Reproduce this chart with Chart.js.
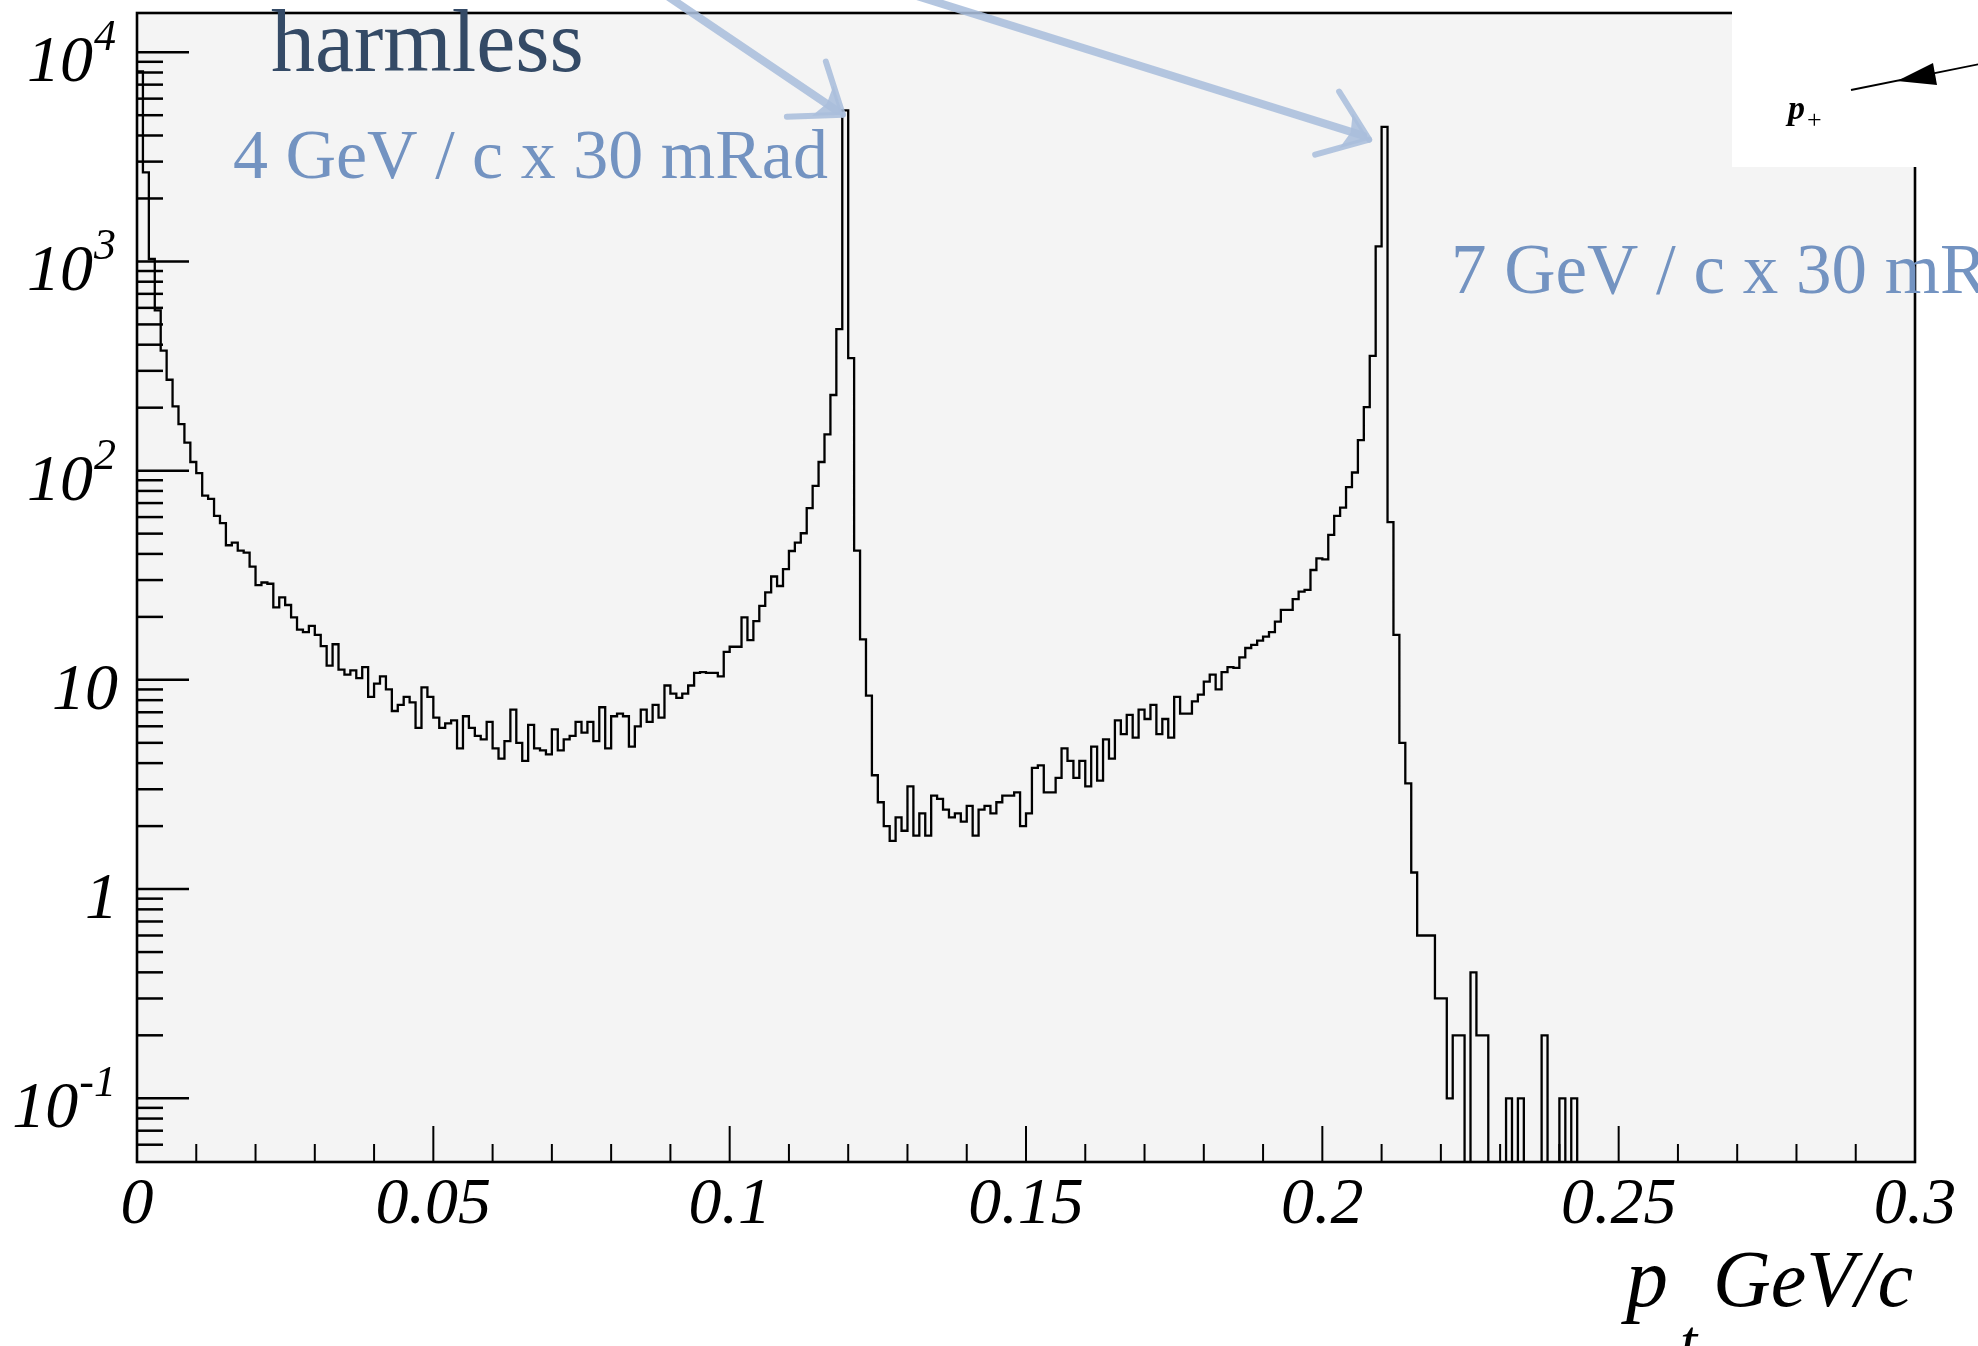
<!DOCTYPE html>
<html><head><meta charset="utf-8">
<script src="https://cdn.jsdelivr.net/npm/chart.js@4.4.0/dist/chart.umd.min.js"></script>
<style>html,body{margin:0;padding:0;background:#fff;overflow:hidden}canvas{display:block}</style>
</head><body>
<canvas id="c" width="1978" height="1346" style="width:1978px;height:1346px"></canvas>
<script>
// ---------------- data ----------------
const xMin = 0, xMax = 0.3, binWidth = 0.001;   // 300 bins of 0.001 GeV/c
const yMin = 0.0496, yMax = 15400;
const counts = [
 8100,2665,1027,583,375,272,203,167,136,110,
 97.3,76,73.3,60.8,56.1,44,45.3,41.5,40.6,34.8,
 28.4,29.2,28.8,22.2,24.8,22.8,19.9,17.4,16.9,18.1,
 16.4,14.5,11.7,14.8,11.2,10.6,11.1,10.2,11.5,8.3,
 9.6,10.4,9.0,7.1,7.6,8.3,7.8,5.9,9.2,8.3,
 6.6,5.9,6.2,6.4,4.7,6.7,5.9,5.4,5.2,6.3,
 4.7,4.2,5.1,7.2,5.0,4.1,6.1,4.7,4.6,4.4,
 5.8,4.6,5.2,5.4,6.3,5.6,6.3,5.1,7.4,4.7,
 6.7,6.9,6.7,4.8,6.0,7.2,6.3,7.6,6.6,9.4,
 8.6,8.2,8.6,9.4,10.8,10.9,10.8,10.8,10.4,13.6,
 14.4,14.4,19.9,15.5,19.1,22.6,26.2,31.2,28.1,33.8,
 41.3,45.3,50.2,66.2,84.6,110,149,230,475,5275,
 345,41.5,15.6,8.4,3.5,2.6,2.0,1.7,2.2,1.9,
 3.1,1.8,2.3,1.8,2.8,2.7,2.4,2.2,2.3,2.1,
 2.5,1.8,2.4,2.5,2.3,2.6,2.8,2.8,2.9,2.0,
 2.3,3.8,3.9,2.9,2.9,3.4,4.7,4.1,3.4,4.1,
 3.1,4.8,3.3,5.2,4.2,6.4,5.5,6.8,5.3,7.2,
 6.5,7.6,5.5,6.5,5.3,8.3,6.9,6.9,7.9,8.5,
 9.8,10.6,9.0,10.9,11.5,11.4,12.8,14.2,14.7,15.4,
 16.1,16.9,19.0,21.6,21.6,24.3,26.4,26.9,33.5,38.1,
 37.7,49.3,60.8,66.6,83.4,98,140,201,354,1180,
 4395,56.7,16.4,5.0,3.2,1.2,0.6,0.6,0.6,0.3,
 0.3,0.1,0.2,0.2,0,0.4,0.2,0.2,0,0,
 0,0.1,0,0.1,0,0,0,0.2,0,0,
 0.1,0,0.1,0,0,0,0,0,0,0,
 0,0,0,0,0,0,0,0,0,0,
 0,0,0,0,0,0,0,0,0,0,
 0,0,0,0,0,0,0,0,0,0,
 0,0,0,0,0,0,0,0,0,0,
 0,0,0,0,0,0,0,0,0,0
];
const xMajorTicks = [0, 0.05, 0.1, 0.15, 0.2, 0.25, 0.3];
const xTickLabels = ['0', '0.05', '0.1', '0.15', '0.2', '0.25', '0.3'];
const yMajorTicks = [0.1, 1, 10, 100, 1000, 10000];
const yTickBase   = ['10', '1', '10', '10', '10', '10'];
const yTickExp    = ['-1', '', '', '2', '3', '4'];
const xTitleMain = 'p', xTitleSub = 't', xTitleUnit = 'GeV/c';
const annHarmless = 'harmless';
const annLow  = '4 GeV / c x 30 mRad';
const annHigh = '7 GeV / c x 30 mRad';
// arrow annotations in data units: [tailX, tailY, tipX, tipY]
const arrowLow  = [0.0879, 19900, 0.1191, 5030];
const arrowHigh = [0.1282, 19900, 0.2079, 3820];

// ---------------- build step outline ----------------
const floorVal = yMin / 100;  // empty bins drop below the axis
const points = counts.map((c, i) => ({ x: xMin + i * binWidth, y: c > 0 ? c : floorVal }));
points.push({ x: xMax, y: counts[counts.length - 1] > 0 ? counts[counts.length - 1] : floorVal });

const SERIF = '"Liberation Serif", "Times New Roman", serif';

function line(ctx, x1, y1, x2, y2) { ctx.beginPath(); ctx.moveTo(x1, y1); ctx.lineTo(x2, y2); ctx.stroke(); }

const bgPlugin = {
  id: 'bg',
  beforeDraw(chart) {
    const { ctx, chartArea: a } = chart;
    ctx.save();
    ctx.fillStyle = '#ffffff';
    ctx.fillRect(0, 0, chart.width, chart.height);
    ctx.fillStyle = '#f4f4f4';
    ctx.fillRect(a.left, a.top, a.right - a.left, a.bottom - a.top);
    ctx.restore();
  }
};

function drawBrushArrow(ctx, xs, ys, arr, barbs) {
  const tx = xs.getPixelForValue(arr[0]), ty = ys.getPixelForValue(arr[1]);
  const hx = xs.getPixelForValue(arr[2]), hy = ys.getPixelForValue(arr[3]);
  ctx.save();
  ctx.strokeStyle = 'rgba(170,190,220,0.88)';
  ctx.fillStyle = 'rgba(170,190,220,0.88)';
  ctx.lineCap = 'round';
  ctx.lineJoin = 'round';
  ctx.lineWidth = 8;
  line(ctx, tx, ty, hx - 6, hy - 4);
  ctx.lineWidth = 6;
  const [b1, b2] = barbs;
  line(ctx, hx, hy, hx + b1[0], hy + b1[1]);
  line(ctx, hx, hy, hx + b2[0], hy + b2[1]);
  ctx.beginPath();
  ctx.moveTo(hx, hy);
  ctx.lineTo(hx + b1[0] * 0.55, hy + b1[1] * 0.55);
  ctx.lineTo(hx + (b1[0] + b2[0]) * 0.22, hy + (b1[1] + b2[1]) * 0.22);
  ctx.lineTo(hx + b2[0] * 0.55, hy + b2[1] * 0.55);
  ctx.closePath();
  ctx.fill();
  ctx.restore();
}

const framePlugin = {
  id: 'frame',
  afterDatasetsDraw(chart) {
    const { ctx, chartArea: a } = chart;
    const xs = chart.scales.x, ys = chart.scales.y;
    ctx.save();
    ctx.strokeStyle = '#000';
    ctx.lineCap = 'butt';
    // y ticks (inside)
    ctx.lineWidth = 2.5;
    for (const v of yMajorTicks) {
      const y = ys.getPixelForValue(v);
      line(ctx, a.left, y, a.left + 52, y);
    }
    for (let e = -2; e <= 4; e++) {
      for (let m = 2; m <= 9; m++) {
        const v = m * Math.pow(10, e);
        if (v <= yMin * 1.03 || v >= yMax) continue;
        const y = ys.getPixelForValue(v);
        line(ctx, a.left, y, a.left + 26, y);
      }
    }
    // x ticks (inside)
    ctx.lineWidth = 2;
    for (const v of xMajorTicks) {
      const x = xs.getPixelForValue(v);
      line(ctx, x, a.bottom, x, a.bottom - 36);
    }
    for (let k = 1; k < 30; k++) {
      if (k % 5 === 0) continue;
      const x = xs.getPixelForValue(k / 100);
      line(ctx, x, a.bottom, x, a.bottom - 18);
    }
    // frame
    ctx.lineWidth = 2.6;
    ctx.strokeRect(a.left, a.top, a.right - a.left, a.bottom - a.top);

    // tick labels
    ctx.fillStyle = '#000';
    ctx.textBaseline = 'alphabetic';
    ctx.font = 'italic 66px ' + SERIF;
    ctx.textAlign = 'center';
    xMajorTicks.forEach((v, i) => {
      ctx.fillText(xTickLabels[i], xs.getPixelForValue(v), 1223);
    });
    yMajorTicks.forEach((v, i) => {
      const y = ys.getPixelForValue(v) + 29;
      ctx.textAlign = 'right';
      if (yTickExp[i]) {
        ctx.font = 'italic 44px ' + SERIF;
        const w = ctx.measureText(yTickExp[i]).width;
        ctx.fillText(yTickExp[i], 116, y - 31);
        ctx.font = 'italic 66px ' + SERIF;
        ctx.fillText(yTickBase[i], 116 - w - 1, y);
      } else {
        ctx.font = 'italic 66px ' + SERIF;
        ctx.fillText(yTickBase[i], 118, y);
      }
    });
    // x-axis title
    ctx.textAlign = 'left';
    ctx.font = 'italic 84px ' + SERIF;
    ctx.fillText(xTitleMain, 1626, 1306);
    ctx.font = 'italic 62px ' + SERIF;
    ctx.fillText(xTitleSub, 1680, 1362);
    ctx.font = 'italic 80px ' + SERIF;
    ctx.fillText(xTitleUnit, 1713, 1306);

    // annotation texts
    ctx.font = '88px ' + SERIF;
    ctx.fillStyle = '#344a66';
    ctx.fillText(annHarmless, 271, 71);
    ctx.font = '70px ' + SERIF;
    ctx.fillStyle = '#7393c1';
    ctx.fillText(annLow, 233, 178);
    ctx.font = '71px ' + SERIF;
    ctx.fillText(annHigh, 1451, 293);

    // hand-drawn arrows
    drawBrushArrow(ctx, xs, ys, arrowLow,  [[-17, -53], [-56, 2]]);
    drawBrushArrow(ctx, xs, ys, arrowHigh, [[-30, -48], [-54, 15]]);

    // pasted inset (white box with p+ arrow)
    ctx.fillStyle = '#ffffff';
    ctx.fillRect(1732, 0, 1978 - 1732, 167);
    ctx.strokeStyle = '#000';
    ctx.lineWidth = 1.8;
    line(ctx, 1851, 90, 1985, 63);
    ctx.fillStyle = '#000';
    ctx.beginPath();
    ctx.moveTo(1897, 81);
    ctx.lineTo(1933, 63);
    ctx.lineTo(1937, 85);
    ctx.closePath();
    ctx.fill();
    ctx.font = 'italic bold 34px ' + SERIF;
    ctx.fillText('p', 1788, 119);
    ctx.font = '26px ' + SERIF;
    ctx.fillText('+', 1807, 128);
    ctx.restore();
  }
};

new Chart(document.getElementById('c'), {
  type: 'line',
  data: {
    datasets: [{
      label: 'p_t',
      data: points,
      stepped: 'before',
      borderColor: '#000',
      borderWidth: 2.3,
      pointRadius: 0,
      fill: false,
      tension: 0
    }]
  },
  options: {
    responsive: false,
    animation: false,
    events: [],
    layout: { padding: { left: 137, right: 63, top: 13, bottom: 184 } },
    plugins: { legend: { display: false }, tooltip: { enabled: false } },
    scales: {
      x: { type: 'linear', min: xMin, max: xMax, display: false },
      y: { type: 'logarithmic', min: yMin, max: yMax, display: false }
    }
  },
  plugins: [bgPlugin, framePlugin]
});
</script>
</body></html>
